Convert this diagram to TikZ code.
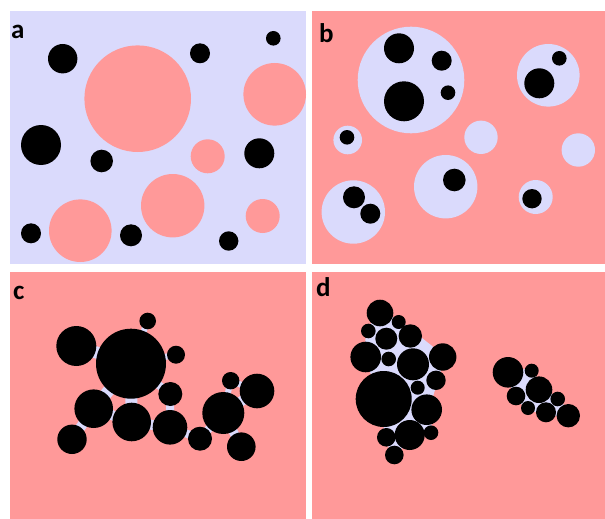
\documentclass[tikz,border=0pt]{standalone}
\usepackage{fontspec}
\setmainfont{Carlito}
\definecolor{lav}{RGB}{218,218,252}
\definecolor{pnk}{RGB}{255,153,153}
\begin{document}
\begin{tikzpicture}[x=1pt,y=-1pt,
  lbl/.style={anchor=base west, inner sep=0pt, font=\fontsize{27}{27}\selectfont\bfseries},
  hull/.style={fill=lav, draw=lav, line width=4pt, line join=round}]
\useasboundingbox (0,0) rectangle (605,519);
\fill[white] (0,0) rectangle (605,519);

% ---------------- panel a ----------------
\fill[lav] (10,11) rectangle (306,264);
\begin{scope}
\clip (10,11) rectangle (306,264);
\foreach \x/\y/\r in {137.7/98.7/53.3, 274.7/94.3/31.3, 207.7/156.3/17, 172.7/205.7/31.7, 80.3/230.7/31.3, 262.7/216/17}
  \fill[pnk] (\x,\y) circle[radius=\r];
\foreach \x/\y/\r in {62.7/58.7/14.7, 200/53.3/10, 273.3/38.3/7.3, 41/145/20, 101.7/161/11.3, 259.3/153.3/15, 31/233.3/10, 131/235.3/11, 228.7/241/9.7}
  \fill[black] (\x,\y) circle[radius=\r];
\end{scope}
\node[lbl] (la) at (11,38.3) {a};

% ---------------- panel b ----------------
\fill[pnk] (312,11) rectangle (605,264);
\begin{scope}
\clip (312,11) rectangle (605,264);
\foreach \x/\y/\r in {411/80/53.3, 548.3/75.3/31.3, 347.7/140/14.3, 481/137.3/16.7, 578.3/150/16.7, 445.7/186.7/31.7, 353.3/212/31.7, 535.7/197/17}
  \fill[lav] (\x,\y) circle[radius=\r];
\foreach \x/\y/\r in {399/48.3/15, 441.7/60.7/10, 404/101.3/20, 448/92.7/7.3, 559.3/58.3/7.3, 539.3/83.3/15, 347/137.3/7.3, 454.3/180/11.3, 354/197.3/11, 370.3/213.7/10, 532/198.7/9.7}
  \fill[black] (\x,\y) circle[radius=\r];
\end{scope}
\node[lbl] (lb) at (319,42.7) {b};

% ---------------- panel c ----------------
\fill[pnk] (10,272) rectangle (306,519);
\foreach \xa/\ya/\xb/\yb/\w in {
  131/363.7/76.3/346/12, 131/363.7/147.7/321/6, 131/363.7/176/354.7/6,
  131/363.7/93.7/408.7/12, 131/363.7/131.7/422/12, 131/363.7/170.3/394/8,
  93.7/408.7/72/439.3/10, 93.7/408.7/131.7/422/10, 131.7/422/170/427.3/10,
  170.3/394/170/427.3/8, 170/427.3/200/438.7/8, 200/438.7/223.3/413/8,
  223.3/413/230.7/380.7/6, 223.3/413/257/391/10, 230.7/380.7/257/391/6,
  223.3/413/241.3/446.7/9}
  \draw[lav, line width=\w pt] (\xa,\ya) -- (\xb,\yb);
\foreach \x/\y/\r in {131/363.7/35, 76.3/346/20, 147.7/321/8.3, 176/354.7/9, 93.7/408.7/19.3, 170.3/394/12, 131.7/422/19.3, 170/427.3/17.3, 72/439.3/14.7, 200/438.7/12, 223.3/413/21, 230.7/380.7/8.7, 257/391/17.3, 241.3/446.7/14.3}
  \fill[black] (\x,\y) circle[radius=\r];
\node[lbl] (lc) at (13,299.3) {c};

% ---------------- panel d ----------------
\fill[pnk] (312,272) rectangle (605,519);
\filldraw[hull] (380,313) -- (398.7,322) -- (442.7,357) -- (436,380.3) -- (426.7,409.7) -- (431,432.7) -- (409.7,435) -- (394.3,455) -- (386.3,437.3) -- (383.7,399) -- (365.7,357) -- (368.3,331) -- cycle;
\filldraw[hull] (508,372.3) -- (531.7,370.7) -- (539,389.7) -- (557.7,399) -- (568.3,415.7) -- (546,412.3) -- (528,408) -- (516,396) -- cycle;
\foreach \x/\y/\r in {380/313/13.3, 398.7/322/7, 368.3/331/7.3, 386.3/338.7/11, 410.3/336/11.7, 365.7/357/15.3, 388.7/359/7.3, 413/364.3/16, 442.7/357/13.7, 436/380.3/9.7, 417.7/387.7/7, 383.7/399/28, 426.7/409.7/15.3, 431/432.7/7.3, 409.7/435/15, 386.3/437.3/9.3, 394.3/455/9.3}
  \fill[black] (\x,\y) circle[radius=\r];
\foreach \x/\y/\r in {508/372.3/15.3, 531.7/370.7/7, 539/389.7/13.3, 516/396/9.3, 557.7/399/7.3, 528/408/7, 546/412.3/10, 568.3/415.7/11.7}
  \fill[black] (\x,\y) circle[radius=\r];
\node[lbl] (ld) at (316,296) {d};
\end{tikzpicture}
\end{document}
